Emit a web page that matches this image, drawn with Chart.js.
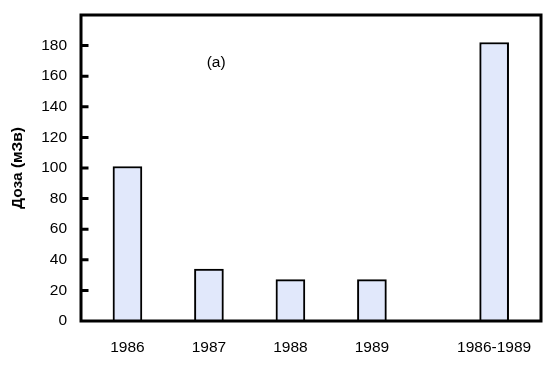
<!DOCTYPE html>
<html>
<head>
<meta charset="utf-8">
<script src="https://cdn.jsdelivr.net/npm/chart.js@4/dist/chart.umd.min.js"></script>
<style>
  html, body { margin: 0; padding: 0; background: #ffffff; }
  #wrap { width: 557px; height: 370px; }
</style>
</head>
<body>
<div id="wrap"><canvas id="c" width="557" height="370"></canvas></div>
<script>
// ---- data ----
const categories = ['1986', '1987', '1988', '1989', '1986-1989'];
const categoryPositions = [0, 1, 2, 3, 4.5];
const doseValues = [101, 34, 27, 27, 182];
const yTickStep = 20;
const yMin = 0;
const yMax = 200;
const yAxisTitle = 'Доза (мЗв)';
const panelLabel = '(a)';
const panelLabelAt = { x: 1.088, y: 168.5 };

const FONT = '"Liberation Sans", Arial, sans-serif';

const framePlugin = {
  id: 'frame',
  afterDraw(chart) {
    const { ctx, chartArea: a, scales } = chart;
    ctx.save();
    ctx.strokeStyle = '#000';
    ctx.lineWidth = 3;
    // inward tick marks on the y axis
    ctx.beginPath();
    scales.y.ticks.forEach(t => {
      if (t.value <= yMin || t.value >= yMax) return;
      const py = scales.y.getPixelForValue(t.value);
      ctx.moveTo(a.left, py);
      ctx.lineTo(a.left + 7.5, py);
    });
    ctx.stroke();
    ctx.strokeRect(a.left, a.top, a.right - a.left, a.bottom - a.top);
    // panel label
    ctx.fillStyle = '#000';
    ctx.font = '15.5px ' + FONT;
    ctx.textAlign = 'center';
    ctx.textBaseline = 'middle';
    ctx.fillText(panelLabel, scales.x.getPixelForValue(panelLabelAt.x), scales.y.getPixelForValue(panelLabelAt.y));
    ctx.restore();
  }
};

new Chart(document.getElementById('c'), {
  type: 'bar',
  data: {
    datasets: [{
      data: categories.map((c, i) => ({ x: categoryPositions[i], y: doseValues[i] })),
      backgroundColor: '#e1e8fb',
      borderColor: '#000000',
      borderWidth: 2,
      barThickness: 29
    }]
  },
  options: {
    responsive: false,
    animation: false,
    devicePixelRatio: 1,
    layout: { padding: { top: 15, right: 16, left: 0, bottom: 0 } },
    plugins: { legend: { display: false }, tooltip: { enabled: false } },
    scales: {
      x: {
        type: 'linear',
        offset: false,
        min: -0.57,
        max: 5.075,
        grid: { display: false, drawTicks: false },
        border: { display: false },
        afterBuildTicks(scale) {
          scale.ticks = categoryPositions.map(v => ({ value: v }));
        },
        afterFit(scale) { scale.height = 49; scale.paddingLeft = 0; scale.paddingRight = 0; },
        ticks: {
          autoSkip: false,
          maxRotation: 0,
          padding: 17,
          color: '#000',
          font: { family: FONT, size: 15.5 },
          callback: (v, i) => categories[i]
        }
      },
      y: {
        min: yMin,
        max: yMax,
        grid: { display: false, drawTicks: false },
        border: { display: false },
        afterFit(scale) { scale.width = 81; scale.paddingTop = 0; scale.paddingBottom = 0; },
        ticks: {
          stepSize: yTickStep,
          padding: 14,
          color: '#000',
          font: { family: FONT, size: 15.5 },
          callback: v => (v >= yMax ? '' : v)
        },
        title: {
          display: true,
          text: yAxisTitle,
          color: '#000',
          font: { family: FONT, size: 15.5, weight: 'bold' },
          padding: { top: 8, bottom: 0 }
        }
      }
    }
  },
  plugins: [framePlugin]
});
</script>
</body>
</html>
